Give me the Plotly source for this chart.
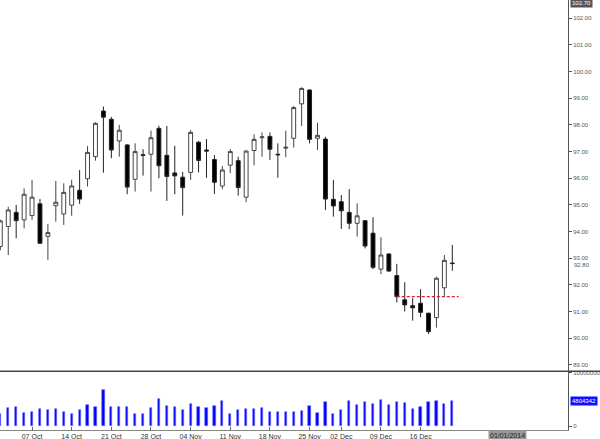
import plotly.graph_objects as go

dates = ["01 Oct","02 Oct","03 Oct","04 Oct","07 Oct","08 Oct","09 Oct","10 Oct","11 Oct",
         "14 Oct","15 Oct","16 Oct","17 Oct","18 Oct","21 Oct","22 Oct","23 Oct","24 Oct","25 Oct",
         "28 Oct","29 Oct","30 Oct","31 Oct","01 Nov","04 Nov","05 Nov","06 Nov","07 Nov","08 Nov",
         "11 Nov","12 Nov","13 Nov","14 Nov","15 Nov","18 Nov","19 Nov","20 Nov","21 Nov","22 Nov",
         "25 Nov","26 Nov","27 Nov","29 Nov","02 Dec","03 Dec","04 Dec","05 Dec","06 Dec",
         "09 Dec","10 Dec","11 Dec","12 Dec","13 Dec","16 Dec","17 Dec","18 Dec","19 Dec","20 Dec"]

opens = [93.44,94.19,94.72,94.44,94.60,95.04,93.82,94.97,94.66,94.99,95.55,95.98,96.81,98.52,98.21,
         97.40,97.25,95.96,96.88,96.90,97.87,96.86,96.20,96.04,96.22,97.35,97.06,96.70,95.71,96.49,
         96.66,95.29,97.04,97.52,97.57,96.90,97.13,97.50,98.79,99.31,97.50,97.47,95.21,95.12,94.72,
         94.31,94.41,93.94,92.59,93.16,92.35,91.44,91.22,91.31,90.94,90.77,91.89,92.82]
highs = [94.45,94.93,95.00,95.62,95.94,95.22,94.29,95.90,95.81,95.94,96.31,97.21,98.10,98.69,98.30,
         98.00,97.28,97.31,97.09,97.79,97.97,97.96,97.22,96.24,97.81,97.40,97.47,96.87,96.46,97.09,
         96.81,97.05,97.65,97.72,97.72,97.31,97.78,98.71,99.41,99.33,98.08,97.56,95.94,95.37,95.59,
         95.06,94.43,94.54,93.79,93.18,92.79,92.10,91.50,91.84,90.95,92.31,93.12,93.50]
lows = [93.30,93.12,93.75,94.12,94.44,93.54,92.94,94.37,94.25,94.59,95.04,95.69,96.66,96.21,96.75,
        96.81,95.40,95.50,96.10,95.50,96.00,95.15,95.40,94.60,95.94,96.22,96.02,95.41,95.59,96.19,
        95.35,95.10,96.49,96.81,96.69,96.02,96.79,97.15,97.96,97.31,97.06,94.81,94.56,94.10,94.09,
        93.81,93.37,92.59,92.40,92.49,91.34,91.00,90.66,90.79,90.16,90.40,91.54,92.53]
closes = [94.40,94.81,94.41,95.40,95.29,93.56,93.96,95.10,95.47,95.71,95.22,96.97,98.06,98.29,97.06,
          97.80,95.67,97.00,96.86,97.52,96.47,96.07,96.09,95.65,97.72,96.67,97.02,95.85,96.31,97.00,
          95.65,97.02,97.46,97.55,97.09,96.88,97.16,98.65,99.37,97.46,97.61,95.22,94.96,94.78,94.31,
          94.59,93.46,92.66,93.12,92.52,91.56,91.25,91.14,90.97,90.25,92.25,92.92,92.80]
volumes = [2290000,3360000,3540000,2540000,2720000,3230000,3040000,3230000,2670000,2350000,
           3040000,3970000,3540000,6770000,3540000,3540000,3540000,2290000,2290000,3360000,
           5040000,3840000,3540000,3040000,4160000,3600000,3410000,3840000,4720000,2290000,
           3040000,3230000,3230000,3360000,2670000,2720000,2720000,2670000,2910000,3790000,
           2540000,4480000,2290000,3040000,4780000,3970000,4590000,4220000,4960000,4030000,
           4530000,4290000,3280000,3540000,4530000,4780000,4220000,4804342]

tick_dates = ["07 Oct","14 Oct","21 Oct","28 Oct","04 Nov","11 Nov","18 Nov","25 Nov",
              "02 Dec","09 Dec","16 Dec"]
price_ticks = [89,90,91,92,93,94,95,96,97,98,99,100,101,102]
vol_ticks = [0, 10000000]
support_level = 91.56
support_start = "11 Dec"
last_price = 92.80
top_price_label = "102.70"
cursor_date = "01/01/2014"

idx = list(range(len(dates)))
tickvals = [dates.index(d) for d in tick_dates]

FONT = "Liberation Sans, Arial, sans-serif"

fig = go.Figure()
fig.add_trace(go.Candlestick(
    x=idx, open=opens, high=highs, low=lows, close=closes,
    increasing=dict(line=dict(color="#444444", width=1), fillcolor="white"),
    decreasing=dict(line=dict(color="#222222", width=1), fillcolor="black"),
    whiskerwidth=0, xaxis="x", yaxis="y", showlegend=False, hoverinfo="skip"))
fig.add_trace(go.Bar(
    x=idx, y=volumes, width=0.28, marker=dict(color="#0000ff", line=dict(width=0.6, color="#6a6aff")),
    xaxis="x", yaxis="y2", showlegend=False, hoverinfo="skip"))

axfont = dict(family=FONT, size=6, color="#555555")

fig.update_layout(
    width=600, height=439,
    margin=dict(l=0, r=32, t=0, b=9),
    paper_bgcolor="white", plot_bgcolor="white",
    xaxis=dict(range=[-0.04, 71.59], anchor="y2", tickvals=tickvals, ticktext=tick_dates,
               automargin=False,
               showgrid=False, zeroline=False, showline=True, linecolor="#888888", linewidth=1,
               ticks="inside", ticklen=3, tickcolor="#666666",
               tickfont=dict(family=FONT, size=7, color="#333333"),
               rangeslider=dict(visible=False)),
    yaxis=dict(domain=[0.1372, 1], range=[88.77, 102.686], side="right", automargin=False,
               tickvals=price_ticks, ticktext=[f"{v:.2f}" for v in price_ticks],
               showgrid=False, zeroline=False, showline=True, linecolor="#555555", linewidth=1,
               ticks="outside", ticklen=3, tickcolor="#555555", tickfont=axfont),
    yaxis2=dict(domain=[0, 0.1349], range=[-690000, 10130000], side="right", automargin=False,
                tickvals=vol_ticks, ticktext=[str(v) for v in vol_ticks],
                showgrid=False, zeroline=False, showline=True, linecolor="#555555", linewidth=1,
                ticks="outside", ticklen=3, tickcolor="#555555", tickfont=axfont),
    bargap=0,
)

# support line
fig.add_shape(type="line", xref="x", yref="y", x0=dates.index(support_start), x1=57.8,
              y0=support_level, y1=support_level,
              line=dict(color="#dd2222", width=1.3, dash="3px,2px"))
# panel separator
fig.add_shape(type="line", xref="paper", yref="paper", x0=0, x1=1.06, y0=0.1368, y1=0.1368,
              line=dict(color="#444444", width=1.5))

# right-side labels
fig.add_annotation(xref="paper", yref="y", x=1, xshift=2, y=102.56, xanchor="left", yanchor="middle",
                   text=top_price_label, showarrow=False, bgcolor="#555555", borderpad=1,
                   font=dict(family=FONT, size=6, color="white"))
fig.add_annotation(xref="paper", yref="y", x=1, xshift=4, y=last_price - 0.05, xanchor="left",
                   yanchor="middle", text=f"{last_price:.2f}", showarrow=False, font=axfont)
fig.add_annotation(xref="paper", yref="y2", x=1, xshift=2, y=volumes[-1], xanchor="left",
                   yanchor="middle", text=str(volumes[-1]), showarrow=False, bgcolor="#1010ff",
                   borderpad=1, font=dict(family=FONT, size=6, color="white"))
# cursor date box and clipped first label
fig.add_annotation(xref="paper", yref="paper", x=507 / 568, y=0, yshift=-5, xanchor="center",
                   yanchor="middle", text=cursor_date, showarrow=False, bgcolor="#999999",
                   borderpad=1, font=dict(family=FONT, size=7, color="#222222"))
fig.add_annotation(xref="x", yref="paper", x=-1, y=0, yshift=-5, xanchor="center", yanchor="middle",
                   text="30 Sep", showarrow=False, font=dict(family=FONT, size=7, color="#333333"))

fig.write_html("out.html", config={"displayModeBar": False},
               post_script="document.body.style.margin='0px';document.body.style.padding='0px';")
